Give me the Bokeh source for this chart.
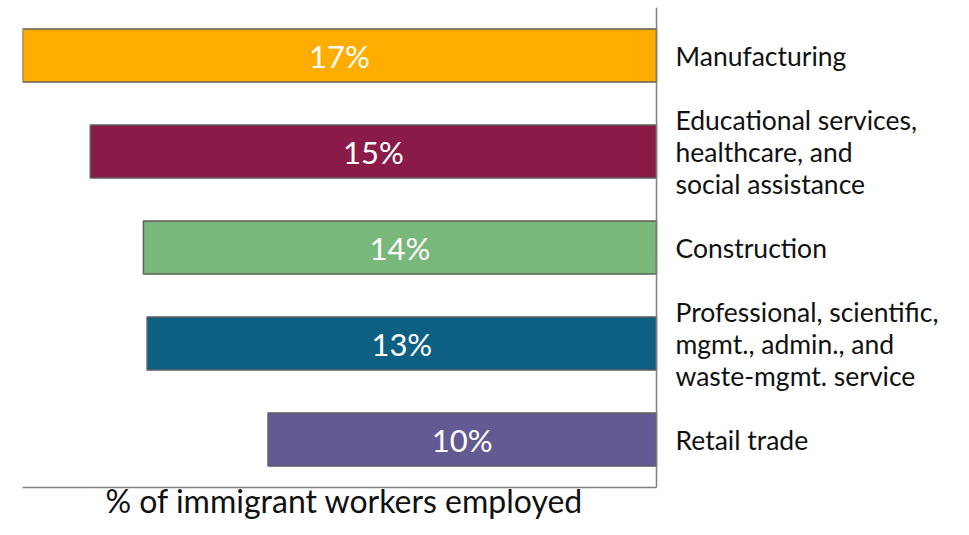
from bokeh.plotting import figure
from bokeh.models import ColumnDataSource, Range1d
from bokeh.core.properties import value
from bokeh.embed import file_html
from bokeh.resources import INLINE

categories = ["Manufacturing",
              "Educational services,\nhealthcare, and\nsocial assistance",
              "Construction",
              "Professional, scientific,\nmgmt., admin., and\nwaste-mgmt. service",
              "Retail trade"]
values = [17.3, 15.45, 14.0, 13.9, 10.6]
value_labels = ["17%", "15%", "14%", "13%", "10%"]
colors = ["#FFAD00", "#8A1A47", "#79B77B", "#0D6082", "#635A91"]
axis_title = "% of immigrant workers employed"

n = len(categories)
idx = list(range(n))
vmax = max(values)

# layout (pixels)
W, H = 953, 519
left_px, top_px = 22, 7
bar_area_px = 634          # from value max to 0
row_px = 96                # per category
frame_w = W - left_px
frame_h = H - top_px
px_per_unit = bar_area_px / vmax

src = ColumnDataSource(dict(
    y=idx, cat=categories, val=values,
    mid=[v / 2 for v in values], zero=[0] * n,
    lab=value_labels, color=colors,
))

p = figure(
    width=W, height=H,
    x_range=Range1d(start=vmax, end=vmax - frame_w / px_per_unit),
    y_range=Range1d(start=-0.5 + frame_h / row_px, end=-0.5),
    output_backend="svg", toolbar_location=None,
    min_border_left=left_px, min_border_right=0, min_border_top=top_px, min_border_bottom=0,
)
p.outline_line_color = None
p.background_fill_color = "white"
p.grid.visible = False
p.axis.visible = False

p.hbar(y="y", left="val", right="zero", height=0.55, source=src,
       fill_color="color", line_color="#5E5E5E", line_width=1.5)

# value labels inside bars
p.text(x="mid", y="y", text="lab", source=src,
       text_align="center", text_baseline="middle",
       text_color="white", text_font=value("Lato"), text_font_size="31px")

# category labels to the right of the axis
p.text(x="zero", y="y", text="cat", source=src, x_offset=19,
       text_align="left", text_baseline="middle",
       text_color="#111111", text_font=value("Lato"), text_font_size="26.5px",
       text_line_height=1.0)

# axis lines
p.segment(x0=[0], y0=[-0.5], x1=[0], y1=[n - 0.5], line_color="#808080", line_width=1.5)
p.segment(x0=[vmax], y0=[n - 0.5], x1=[0], y1=[n - 0.5], line_color="#808080", line_width=1.5)

# axis title
p.text(x=[vmax / 2], y=[-0.5 + frame_h / row_px], text=[axis_title], x_offset=5, y_offset=0,
       text_align="center", text_baseline="bottom",
       text_color="#111111", text_font=value("Lato"), text_font_size="32px")

open("out.html", "w").write(file_html(p, INLINE))
